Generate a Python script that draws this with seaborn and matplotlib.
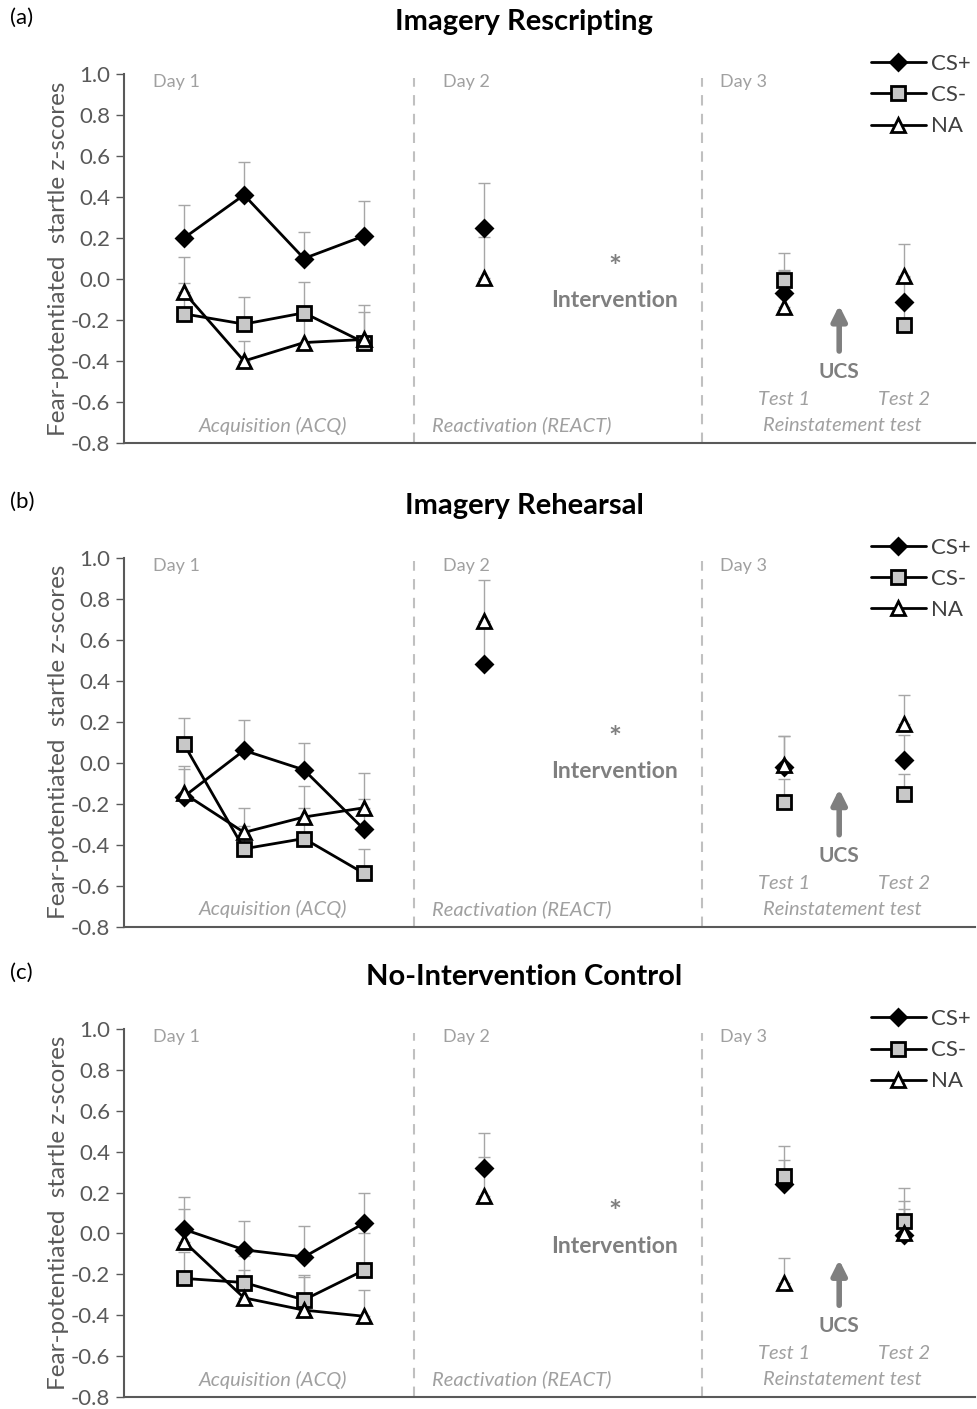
import numpy as np
import pandas as pd
import matplotlib.pyplot as plt
import seaborn as sns

sns.set_style('white')
plt.rcParams['font.family'] = ['Lato', 'DejaVu Sans']

titles = ['Imagery Rescripting', 'Imagery Rehearsal', 'No-Intervention Control']
tags = ['(a)', '(b)', '(c)']
stimuli = ['CS+', 'CS-', 'NA']

acq_x = [1, 2, 3, 4]
react_x = [6]
test_x = [11, 13]

# acquisition means per panel (a, b, c)
acq_csp = [[0.20, 0.41, 0.10, 0.21], [-0.165, 0.06, -0.035, -0.325], [0.02, -0.08, -0.115, 0.05]]
acq_csm = [[-0.17, -0.22, -0.165, -0.31], [0.09, -0.42, -0.37, -0.54], [-0.22, -0.24, -0.325, -0.18]]
acq_na = [[-0.065, -0.40, -0.31, -0.295], [-0.15, -0.34, -0.265, -0.22], [-0.04, -0.315, -0.375, -0.405]]
acq_csp_se = [[0.16, 0.16, 0.13, 0.17], [0.15, 0.15, 0.13, 0.15], [0.16, 0.14, 0.15, 0.15]]
acq_csm_se = [[0.15, 0.13, 0.15, 0.15], [0.13, 0.11, 0.15, 0.12], [0.13, 0.13, 0.12, 0.18]]
acq_na_se = [[0.17, 0.10, 0.15, 0.17], [0.12, 0.12, 0.15, 0.17], [0.16, 0.135, 0.16, 0.13]]

# reactivation (day 2): only CS+ and NA
react_csp = [[0.25], [0.48], [0.32]]
react_na = [[0.005], [0.69], [0.185]]
react_csp_se = [[0.22], [0.20], [0.17]]
react_na_se = [[0.20], [0.20], [0.19]]

# reinstatement test (day 3)
test_csp = [[-0.07, -0.11], [-0.02, 0.015], [0.24, -0.01]]
test_csm = [[-0.005, -0.225], [-0.19, -0.155], [0.28, 0.06]]
test_na = [[-0.135, 0.015], [-0.01, 0.19], [-0.24, 0.0]]
test_csp_se = [[0.11, 0.12], [0.15, 0.12], [0.12, 0.13]]
test_csm_se = [[0.13, 0.10], [0.11, 0.10], [0.15, 0.16]]
test_na_se = [[0.18, 0.155], [0.14, 0.14], [0.12, 0.16]]

yticks = [-0.8, -0.6, -0.4, -0.2, 0.0, 0.2, 0.4, 0.6, 0.8, 1.0]

rows = []
for p in range(3):
    groups = [
        ('ACQ', acq_x, acq_csp[p], acq_csp_se[p], 'CS+'),
        ('ACQ', acq_x, acq_csm[p], acq_csm_se[p], 'CS-'),
        ('ACQ', acq_x, acq_na[p], acq_na_se[p], 'NA'),
        ('REACT', react_x, react_csp[p], react_csp_se[p], 'CS+'),
        ('REACT', react_x, react_na[p], react_na_se[p], 'NA'),
        ('TEST', test_x, test_csp[p], test_csp_se[p], 'CS+'),
        ('TEST', test_x, test_csm[p], test_csm_se[p], 'CS-'),
        ('TEST', test_x, test_na[p], test_na_se[p], 'NA'),
    ]
    for phase, xs, ms, ses, stim in groups:
        for x, m, s in zip(xs, ms, ses):
            rows.append(dict(panel=p, phase=phase, x=x, stim=stim, mean=m, se=s))
df = pd.DataFrame(rows)

marker_style = {
    'CS+': dict(marker='D', face='black', ms=8.5),
    'CS-': dict(marker='s', face='#c8c8c8', ms=10),
    'NA': dict(marker='^', face='white', ms=10),
}

grey = '#7f7f7f'
text_grey = '#a0a0a0'
W, H = 978, 1409
tops = [74, 557.7, 1029]
bottoms = [443, 926.7, 1397]
ax_left, ax_right = 124, 975
star_y = [0.475, 0.51, 0.50]
interv_y = [0.385, 0.42, 0.41]

fig = plt.figure(figsize=(W / 100, H / 100), dpi=100)

for p in range(3):
    ax = fig.add_axes([ax_left / W, 1 - bottoms[p] / H,
                       (ax_right - ax_left) / W, (bottoms[p] - tops[p]) / H])
    d = df[df.panel == p]

    # error bars (upper only)
    ax.errorbar(d['x'], d['mean'], yerr=[np.zeros(len(d)), d['se']], fmt='none',
                ecolor='#a6a6a6', elinewidth=1, capsize=4.5, capthick=1, zorder=1)

    handles = []
    for stim in stimuli:
        st = marker_style[stim]
        a = d[(d.phase == 'ACQ') & (d.stim == stim)]
        sns.lineplot(data=a, x='x', y='mean', ax=ax, color='black', lw=2,
                     marker=st['marker'], markersize=st['ms'],
                     markerfacecolor=st['face'], markeredgecolor='black',
                     markeredgewidth=2, label=stim, zorder=3, legend=False)
        handles.append(ax.lines[-1])
        o = d[(d.phase != 'ACQ') & (d.stim == stim)]
        for _, r in o.iterrows():
            sns.lineplot(x=[r['x']], y=[r['mean']], ax=ax, color='black', lw=0,
                         marker=st['marker'], markersize=st['ms'],
                         markerfacecolor=st['face'], markeredgecolor='black',
                         markeredgewidth=2, zorder=3, legend=False)

    ax.set_xlim(0, (ax_right - ax_left) / 60)
    ax.set_ylim(-0.8, 1.0)
    ax.set_yticks(yticks)
    ax.set_yticklabels([f'{v:.1f}' for v in yticks])
    ax.set_xticks([])
    ax.set_xlabel('')
    ax.set_ylabel('Fear-potentiated  startle z-scores', fontsize=17.5, color='#595959', labelpad=1)
    ax.tick_params(axis='y', direction='out', length=6, width=1, color='#595959',
                   labelsize=16, labelcolor='#595959', left=True, pad=4)
    sns.despine(ax=ax)
    for s in ['left', 'bottom']:
        ax.spines[s].set_color('#595959')
        ax.spines[s].set_linewidth(1.5)

    for xv in [4.83, 9.63]:
        ax.axvline(xv, ymin=0, ymax=0.99, color='#c0c0c0', ls=(0, (5, 4)), lw=1.5, zorder=0)

    tr = ax.get_xaxis_transform()
    for xv, lab in zip([0.88, 5.7, 10.33], ['Day 1', 'Day 2', 'Day 3']):
        ax.text(xv, 0.978, lab, transform=tr, ha='center', va='center', fontsize=13, color=text_grey)
    for xv, lab in zip([2.48, 6.63, 11.97], ['Acquisition (ACQ)', 'Reactivation (REACT)', 'Reinstatement test']):
        ax.text(xv, 0.047, lab, transform=tr, ha='center', va='center', fontsize=14.5,
                color=text_grey, style='italic')
    for xv, lab in zip(test_x, ['Test 1', 'Test 2']):
        ax.text(xv, 0.117, lab, transform=tr, ha='center', va='center', fontsize=14.5,
                color=text_grey, style='italic')
    ax.text(8.18, star_y[p], '*', transform=tr, ha='center', va='center', fontsize=22,
            color=grey, fontweight='bold')
    ax.text(8.18, interv_y[p], 'Intervention', transform=tr, ha='center', va='center',
            fontsize=16.5, color=grey, fontweight='bold')
    ax.annotate('', xy=(11.92, -0.115), xytext=(11.92, -0.365),
                arrowprops=dict(arrowstyle='-|>', color=grey, lw=4, mutation_scale=22))
    ax.text(11.92, -0.455, 'UCS', ha='center', va='center', fontsize=15, color=grey,
            fontweight='bold')

    leg = ax.legend(handles, stimuli, loc='upper right', bbox_to_anchor=(1.005, 1.078),
                    frameon=False, fontsize=16, handlelength=2.5, handletextpad=0.2,
                    labelspacing=0.5, borderaxespad=0)
    for t in leg.get_texts():
        t.set_color('#404040')

    top_f = 1 - tops[p] / H
    fig.text(0.536, top_f + 52 / H, titles[p], ha='center', va='center', fontsize=21,
             fontweight='bold', color='black')
    fig.text(10 / W, top_f + 56 / H, tags[p], ha='left', va='center', fontsize=16, color='black')

fig.savefig('out.png', dpi=100)
